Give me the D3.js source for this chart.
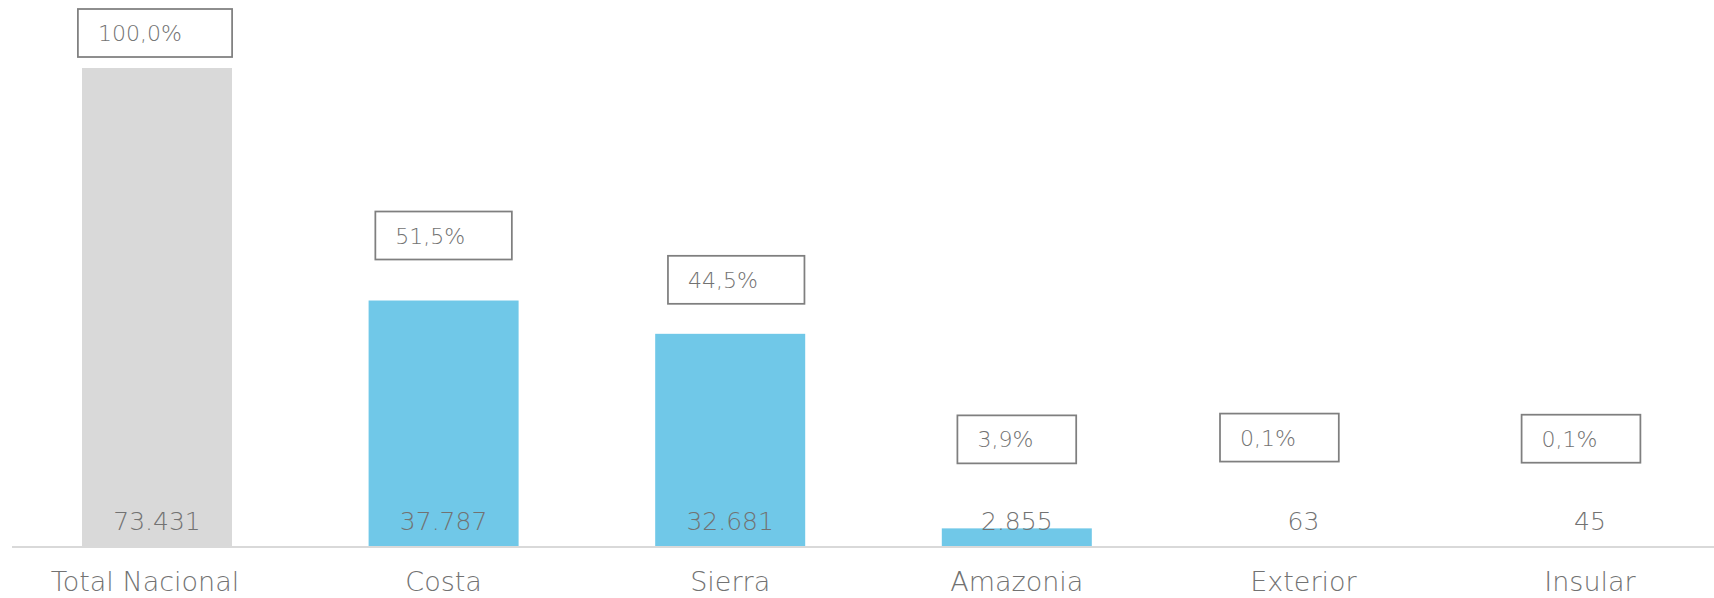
<!DOCTYPE html>
<html lang="es">

<head>
    <meta charset="UTF-8">
    <style>
        html, body { margin: 0; padding: 0; background: #fff; }
        #bar-chart { width: 1714px; height: 598px; }
        text { font-family: "DejaVu Sans", "Noto Sans", sans-serif; font-weight: 200; fill: #727272; }
    </style>
    <title>Regiones</title>
    <script src="https://cdn.jsdelivr.net/npm/d3@7/dist/d3.min.js"></script>
</head>

<body>
    <div id="bar-chart"></div>
    <script>
        // data
        const categories = ['Total Nacional', 'Costa', 'Sierra', 'Amazonia', 'Exterior', 'Insular'];
        const values = [73431, 37787, 32681, 2855, 63, 45];
        const valueLabels = ['73.431', '37.787', '32.681', '2.855', '63', '45'];
        const pctLabels = ['100,0%', '51,5%', '44,5%', '3,9%', '0,1%', '0,1%'];

        // label box placement (px): horizontal shift from bar centre, lift of box bottom above bar top
        const boxDx = [-2, 0, 6, 0, -24, -9];
        const boxLift = [11, 41, 30, 65, 85, 84];

        const width = 1714;
        const height = 598;
        const baseY = 547;

        const svg = d3.select('#bar-chart')
            .append('svg')
            .attr('width', width)
            .attr('height', height);

        const xScale = d3.scaleBand()
            .domain(categories)
            .range([13.7, 13.7 + 6 * 286.6])
            .paddingInner(0.4766)
            .paddingOuter(0.2383);

        const yScale = d3.scaleLinear()
            .domain([0, 73431])
            .range([baseY, 68]);

        // bars
        svg.selectAll('rect.bar')
            .data(values)
            .enter()
            .append('rect')
            .attr('class', 'bar')
            .attr('x', (d, i) => xScale(categories[i]))
            .attr('width', xScale.bandwidth())
            .attr('y', d => yScale(d))
            .attr('height', d => baseY - yScale(d))
            .style('fill', (d, i) => i === 0 ? '#d9d9d9' : '#70c8e8');

        // axis
        const xAxis = d3.axisBottom(xScale).tickSize(0).tickPadding(25);
        const gx = svg.append('g')
            .attr('class', 'x axis')
            .attr('transform', `translate(0, ${baseY})`)
            .call(xAxis);
        gx.select('.domain').remove();
        gx.selectAll('text')
            .attr('fill', null)
            .style('font-size', '27px');
        // first label sits a little left in the original
        gx.selectAll('.tick').filter((d, i) => i === 0).select('text').attr('dx', -12);
        svg.append('line')
            .attr('x1', 12).attr('x2', width)
            .attr('y1', baseY).attr('y2', baseY)
            .style('stroke', '#d9d9d9')
            .style('stroke-width', 2);

        // value labels at the foot of each bar
        svg.selectAll('text.value')
            .data(values)
            .enter()
            .append('text')
            .attr('class', 'value')
            .attr('x', (d, i) => xScale(categories[i]) + xScale.bandwidth() / 2)
            .attr('y', 530)
            .attr('text-anchor', 'middle')
            .style('font-size', '25px')
            .text((d, i) => valueLabels[i]);

        // percentage boxes
        const boxH = 48;
        const boxes = svg.selectAll('g.pct')
            .data(values)
            .enter()
            .append('g')
            .attr('class', 'pct')
            .attr('transform', (d, i) => {
                const w = 48 + 17.7 * pctLabels[i].length;
                const cx = xScale(categories[i]) + xScale.bandwidth() / 2 + boxDx[i];
                const top = yScale(d) - boxLift[i] - boxH;
                return `translate(${cx - w / 2}, ${top})`;
            });

        boxes.append('rect')
            .attr('width', (d, i) => 48 + 17.7 * pctLabels[i].length)
            .attr('height', boxH)
            .style('fill', '#fff')
            .style('stroke', '#7f7f7f')
            .style('stroke-width', 1.75);

        boxes.append('text')
            .attr('x', 20)
            .attr('y', boxH / 2 + 8)
            .style('font-size', '22px')
            .text((d, i) => pctLabels[i]);
    </script>
</body>

</html>
